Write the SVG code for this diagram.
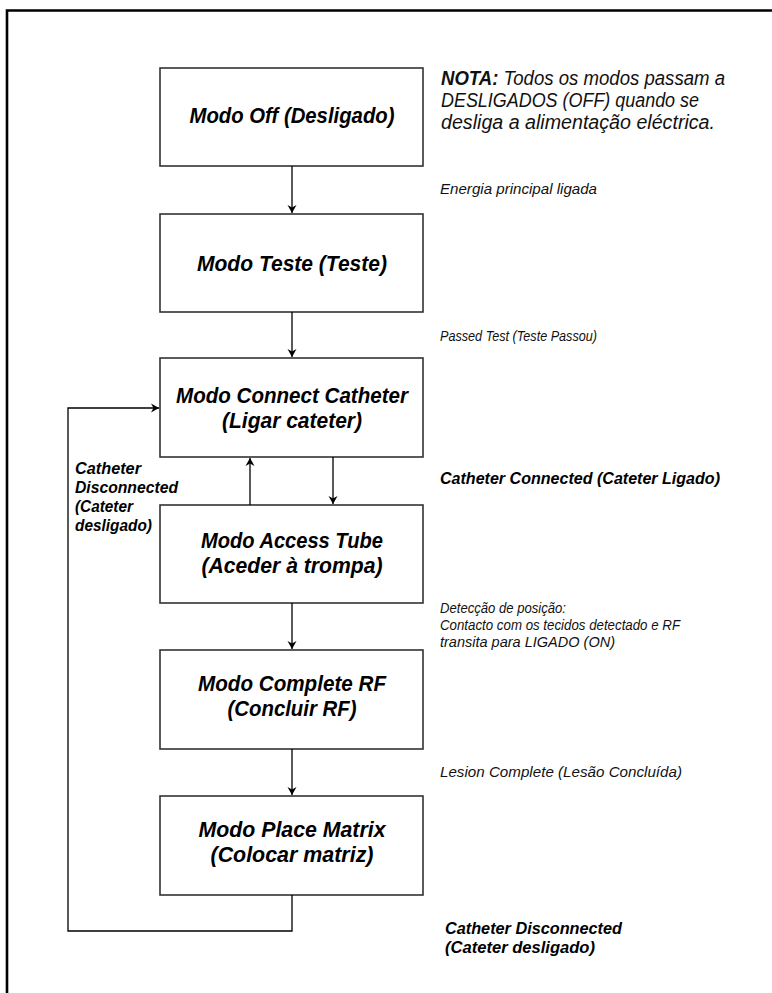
<svg xmlns="http://www.w3.org/2000/svg" width="772" height="993" viewBox="0 0 772 993">
<defs>
<marker id="ah" markerWidth="8" markerHeight="10" refX="8" refY="5" orient="auto" markerUnits="userSpaceOnUse">
<path d="M0,0.5 L8,5 L0,9.5 L2.5,5 Z" fill="#000"/>
</marker>
<style>
.box{fill:#fff;stroke:#333;stroke-width:1.6}
.bt{font-family:"Liberation Sans Narrow","Liberation Sans",sans-serif;font-weight:bold;font-style:italic;font-size:22px;fill:#000;text-anchor:middle}
.lb{font-family:"Liberation Sans Narrow","Liberation Sans",sans-serif;font-style:italic;font-size:15px;fill:#111}
.lbb{font-family:"Liberation Sans Narrow","Liberation Sans",sans-serif;font-style:italic;font-weight:bold;font-size:17px;fill:#000}
.note{font-family:"Liberation Sans Narrow","Liberation Sans",sans-serif;font-style:italic;font-size:19.5px;fill:#111}
.cn{fill:none;stroke:#000;stroke-width:1.3}
</style>
</defs>
<rect width="772" height="993" fill="#fff"/>
<path d="M7,993 V10.5 H772" fill="none" stroke="#000" stroke-width="2.6"/>

<g id="note">
<text class="note" x="441" y="85" textLength="284" lengthAdjust="spacingAndGlyphs"><tspan font-weight="bold">NOTA:</tspan> Todos os modos passam a</text>
<text class="note" x="441" y="107" textLength="258" lengthAdjust="spacingAndGlyphs">DESLIGADOS (OFF) quando se</text>
<text class="note" x="441" y="129" textLength="274" lengthAdjust="spacingAndGlyphs">desliga a alimentação eléctrica.</text>
</g>

<g id="n-off">
<rect class="box" x="160" y="68" width="263" height="98"/>
<text class="bt" x="292" y="123" font-size="19.5" textLength="205" lengthAdjust="spacingAndGlyphs">Modo Off (Desligado)</text>
</g>
<g id="n-teste">
<rect class="box" x="160" y="214" width="263" height="98"/>
<text class="bt" x="292" y="271" textLength="190" lengthAdjust="spacingAndGlyphs">Modo Teste (Teste)</text>
</g>
<g id="n-connect">
<rect class="box" x="160" y="358" width="263" height="99"/>
<text class="bt" x="292" y="403" textLength="232" lengthAdjust="spacingAndGlyphs">Modo Connect Catheter</text>
<text class="bt" x="292" y="428" textLength="140" lengthAdjust="spacingAndGlyphs">(Ligar cateter)</text>
</g>
<g id="n-access">
<rect class="box" x="160" y="505" width="263" height="98"/>
<text class="bt" x="292" y="548" textLength="182" lengthAdjust="spacingAndGlyphs">Modo Access Tube</text>
<text class="bt" x="292" y="573" textLength="181" lengthAdjust="spacingAndGlyphs">(Aceder à trompa)</text>
</g>
<g id="n-complete">
<rect class="box" x="160" y="650" width="263" height="99"/>
<text class="bt" x="292" y="691" textLength="188" lengthAdjust="spacingAndGlyphs">Modo Complete RF</text>
<text class="bt" x="292" y="716" textLength="129" lengthAdjust="spacingAndGlyphs">(Concluir RF)</text>
</g>
<g id="n-place">
<rect class="box" x="160" y="796" width="263" height="99"/>
<text class="bt" x="292" y="837" textLength="187" lengthAdjust="spacingAndGlyphs">Modo Place Matrix</text>
<text class="bt" x="292" y="862" textLength="163" lengthAdjust="spacingAndGlyphs">(Colocar matriz)</text>
</g>

<g id="connectors">
<path class="cn" d="M292,166 V213" marker-end="url(#ah)"/>
<path class="cn" d="M292,312 V357" marker-end="url(#ah)"/>
<path class="cn" d="M333,457 V504" marker-end="url(#ah)"/>
<path class="cn" d="M250,505 V458" marker-end="url(#ah)"/>
<path class="cn" d="M292,603 V649" marker-end="url(#ah)"/>
<path class="cn" d="M292,749 V795" marker-end="url(#ah)"/>
<path class="cn" d="M292,895 V931 H68 V408 H159" marker-end="url(#ah)"/>
</g>

<g id="labels">
<text class="lb" x="440" y="194" textLength="157" lengthAdjust="spacingAndGlyphs">Energia principal ligada</text>
<text class="lb" x="440" y="341" textLength="157" lengthAdjust="spacingAndGlyphs">Passed Test (Teste Passou)</text>
<text class="lbb" x="440" y="484" textLength="280" lengthAdjust="spacingAndGlyphs">Catheter Connected (Cateter Ligado)</text>
<text class="lb" x="440" y="613" textLength="126" lengthAdjust="spacingAndGlyphs">Detecção de posição:</text>
<text class="lb" x="440" y="630" textLength="240" lengthAdjust="spacingAndGlyphs">Contacto com os tecidos detectado e RF</text>
<text class="lb" x="440" y="647" textLength="175" lengthAdjust="spacingAndGlyphs">transita para LIGADO (ON)</text>
<text class="lb" x="440" y="777" textLength="242" lengthAdjust="spacingAndGlyphs">Lesion Complete (Lesão Concluída)</text>
<text class="lbb" x="445" y="934" textLength="177" lengthAdjust="spacingAndGlyphs">Catheter Disconnected</text>
<text class="lbb" x="445" y="953" textLength="150" lengthAdjust="spacingAndGlyphs">(Cateter desligado)</text>
<text class="lbb" x="75" y="474" textLength="66" lengthAdjust="spacingAndGlyphs">Catheter</text>
<text class="lbb" x="75" y="493" textLength="103" lengthAdjust="spacingAndGlyphs">Disconnected</text>
<text class="lbb" x="75" y="512" textLength="58" lengthAdjust="spacingAndGlyphs">(Cateter</text>
<text class="lbb" x="75" y="531" textLength="77" lengthAdjust="spacingAndGlyphs">desligado)</text>
</g>
</svg>
